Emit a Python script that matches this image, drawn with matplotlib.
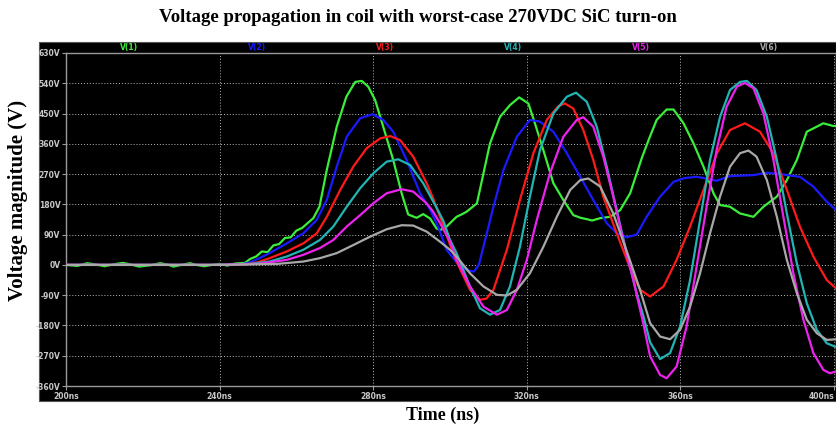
import numpy as np
import matplotlib
matplotlib.use("Agg")
import matplotlib.pyplot as plt
from matplotlib.patches import Rectangle

# time (ns) / voltage (V)
t1 = [200, 203, 205.5, 208, 210, 212.5, 214.8, 217, 219, 222, 224.5, 226.5, 228, 230, 232.3, 234, 236, 238,
      240, 242, 244, 246.6, 248, 249.5, 251, 252.5, 254, 255.5, 257, 258.5, 260, 261.5, 263, 264.4, 266,
      267.9, 270.5, 273, 275.3, 277, 278.7, 280.5, 282.6, 285.2, 287.4, 289.1, 291.3, 293, 294.8, 296.5,
      297.5, 299.1, 301.7, 303, 304.3, 307, 308.7, 310.4, 313, 315.6, 318, 320.4, 322.1, 324.3, 326.9,
      329.5, 332.1, 334, 335.6, 337, 339.1, 341.7, 344.3, 346.9, 350, 352, 353.8, 356.4, 358.2, 360.8,
      363.4, 366, 368.6, 370.3, 372.9, 375.5, 379, 381.6, 385.1, 387.7, 390.3, 392.9, 395.5, 397.2,
      399.8, 400.5]
v1 = [0, -3, 5, 1, -4, 2, 6, 1, -5, -1, 5, 1, -5, 0, 5, 0, -4, 0,
      3, -2, 4, 6, 18, 25, 40, 38, 58, 62, 80, 82, 102, 110, 125, 139, 173,
      282, 411, 500, 544, 547, 530, 490, 411, 312, 213, 150, 140, 151, 138, 108,
      104, 114, 143, 150, 158, 183, 272, 361, 440, 475, 498, 480, 421, 341, 243,
      193, 148, 140, 136, 132, 139, 143, 163, 213, 320, 380, 431, 462, 462, 421,
      361, 292, 213, 178, 173, 153, 143, 173, 203, 252, 312, 396, 411, 421,
      413, 413]

t2 = [200, 240, 246, 248, 250, 253, 257.5, 261.8, 265.3, 267.9, 270.5, 273.1, 276.6, 279.8, 282.6, 285.2,
      288.7, 292.2, 294.8, 297, 299.1, 302.6, 305, 306.2, 307.5, 308.7, 311.3, 313.9, 317.4, 320.8, 323.4,
      326.9, 330.4, 333.9, 337.3, 340.8, 343.4, 346, 348.6, 351.2, 354.7, 358.2, 361, 364.2, 367, 369.4,
      372.9, 379, 382.5, 385.9, 391.1, 394.6, 398.1, 400.5]
v2 = [0, 0, 2, 8, 18, 35, 64, 94, 134, 193, 292, 381, 436, 448, 431, 396,
      312, 213, 165, 110, 45, -5, -17, -20, 0, 54, 173, 282, 381, 431, 426,
      396, 332, 262, 193, 124, 94, 82, 90, 143, 203, 247, 258, 262, 256, 250,
      264, 267, 274, 270, 262, 233, 188, 163]

t3 = [200, 240, 247, 250, 253, 257.5, 261.8, 265.3, 267.9, 271.4, 274.8, 278.3, 281.8, 284.4, 287, 290.4,
      293.9, 295.5, 297.4, 300, 301.7, 305.2, 307.8, 309.5, 311.3, 314.8, 318.2, 321.7, 325.2, 328.2, 329.9,
      332.1, 334.7, 337.3, 339.9, 343.4, 346.9, 349.5, 352.1, 355.6, 359, 362.5, 366, 369.5, 372.9, 376.8,
      380.7, 384.2, 387.7, 391.1, 394.6, 398.1, 400.5]
v3 = [0, 0, 2, 8, 20, 40, 64, 94, 143, 223, 292, 347, 376, 383, 371, 322,
      243, 200, 143, 60, 10, -74, -104, -100, -74, 45, 193, 332, 431, 472, 480,
      465, 401, 312, 203, 94, -10, -74, -94, -64, 15, 114, 223, 332, 401, 421,
      396, 332, 223, 114, 25, -45, -70]

t4 = [200, 240, 248, 253, 257.5, 261.8, 266.1, 269.6, 273.1, 276.6, 280, 283.5, 286.5, 289.6, 293, 296.5,
      298.3, 300, 301.7, 305.2, 307.8, 310.4, 313, 315.6, 318.2, 320.8, 323.4, 326.9, 330.4, 332.8, 335.6,
      338.2, 340.8, 343.4, 346, 348.6, 350.3, 352.1, 354.7, 357.3, 359.9, 362.5, 365.1, 367.7, 370.3, 372.9,
      375.5, 377.3, 379.8, 382.5, 385.1, 387.7, 390.3, 392.9, 395.5, 398.1, 400.5]
v4 = [0, 0, 3, 10, 25, 45, 74, 114, 173, 228, 272, 307, 314, 297, 243, 170,
      130, 74, 35, -64, -129, -148, -134, -64, 54, 203, 341, 450, 500, 512, 485,
      411, 292, 163, 35, -84, -150, -230, -280, -262, -183, -45, 134, 312, 440, 520,
      544, 547, 520, 440, 312, 153, 5, -114, -193, -233, -244]

t5 = [200, 240, 250, 257.5, 261.8, 266.1, 269.6, 273.1, 276.6, 280, 283.5, 287.4, 290.4, 293.9, 295.5, 297.4,
      300, 301.7, 305.2, 308.7, 312.2, 314.8, 317.4, 320, 322.6, 326, 329.5, 333, 334.7, 337.3, 339.9,
      342.5, 345.1, 347.7, 350.3, 352.1, 354.7, 356.4, 359, 361.6, 364.2, 366.8, 369.4, 372, 374.7, 376.8,
      379, 381.6, 384.2, 386.8, 389.4, 392, 394.6, 397.2, 398.9, 400.5]
v5 = [0, 0, 3, 15, 30, 50, 74, 114, 148, 183, 213, 225, 218, 183, 160, 124,
      69, 15, -64, -124, -148, -134, -74, 15, 134, 272, 381, 431, 439, 411, 322,
      203, 74, -45, -173, -272, -327, -337, -302, -183, -5, 173, 341, 470, 530, 541,
      525, 450, 312, 143, -25, -163, -262, -312, -322, -317]

t6 = [200, 240, 255, 261.8, 266.1, 270.5, 274.8, 279.2, 283.5, 287.4, 290.4, 293.9, 297.4, 300, 301.7, 305.2,
      308.7, 312.2, 314.8, 317.4, 320.8, 324.3, 327.8, 331.3, 333.9, 336, 339.1, 342.5, 346.5, 349.5, 352.1,
      354.7, 357.3, 359.9, 362.5, 365.1, 367.7, 370.3, 372.9, 375.5, 377.7, 379.8, 382.5, 385.1, 387.7, 390.3,
      392.9, 395.5, 398.1, 400.5]
v6 = [0, 0, 3, 10, 20, 35, 59, 84, 106, 118, 117, 99, 69, 45, 25, -25,
      -64, -89, -91, -74, -25, 54, 143, 223, 252, 257, 233, 153, 25, -75, -173,
      -213, -221, -193, -124, -25, 94, 203, 292, 332, 340, 322, 252, 143, 15, -84,
      -163, -203, -223, -221]

names = ["V(1)", "V(2)", "V(3)", "V(4)", "V(5)", "V(6)"]
colors = ["#3aee3a", "#1a1aff", "#ff1a1a", "#22b4b4", "#ee22ee", "#a8a8a8"]
yticks = list(range(-360, 631, 90))
xticks = [200, 240, 280, 320, 360, 400]

W, H = 836, 425
fig = plt.figure(figsize=(W / 100, H / 100), dpi=100)
fig.patch.set_facecolor("white")

# LTspice window background, behind the axes
fig.patches.append(Rectangle((39 / W, 1 - 401 / H), (W - 39) / W, (401 - 42) / H,
                             transform=fig.transFigure, facecolor="black", edgecolor="#555555",
                             linewidth=0.8, zorder=-5))

ax = fig.add_axes([66 / W, 1 - 386 / H, (W - 66) / W, (386 - 53) / H], zorder=1)
ax.set_facecolor("black")
for s in ax.spines.values():
    s.set_color("#9a9a9a")
    s.set_linewidth(1.0)

series = [(t1, v1), (t2, v2), (t3, v3), (t4, v4), (t5, v5), (t6, v6)]
for (t, v), c in zip(series, colors):
    ax.plot(t, v, color=c, linewidth=1.6, solid_joinstyle="round", zorder=3)

ax.set_xlim(200, 400.5)
ax.set_ylim(-360, 630)
ax.set_yticks(yticks)
ax.set_yticklabels([f"{y}V" for y in yticks])
ax.set_xticks(xticks)
ax.set_xticklabels([f"{x}ns" for x in xticks])
narrow = ["Liberation Sans Narrow", "DejaVu Sans"]
for lab in ax.get_yticklabels() + ax.get_xticklabels():
    lab.set_fontfamily(narrow)
    lab.set_fontweight("bold")
    lab.set_fontsize(5.5)
    lab.set_color("#c8c8c8")
ax.tick_params(axis="y", colors="#9a9a9a", length=3, width=0.8, pad=1, labelcolor="#c8c8c8")
ax.tick_params(axis="x", colors="#9a9a9a", length=3, width=0.8, pad=1, labelcolor="#c8c8c8")
# last x label sits at the cut-off right edge, pull it inside
ax.get_xticklabels()[-1].set_horizontalalignment("right")
ax.grid(True, color="#bbbbbb", linestyle=(0, (1, 2)), linewidth=0.7, zorder=1)
ax.set_axisbelow(True)

# trace names above the plot
for i, (n, c) in enumerate(zip(names, colors)):
    xf = (129 + 128 * i - 66) / (W - 66)
    ax.text(xf, 1.018, n, transform=ax.transAxes, color=c, ha="center", va="center",
            fontsize=5.5, fontweight="bold", family=narrow)

serif = ["Liberation Serif", "DejaVu Serif"]
fig.text(418 / W, 1 - 18 / H, "Voltage propagation in coil with worst-case 270VDC SiC turn-on",
         ha="center", va="center", fontsize=13.5, fontweight="bold", family=serif)
fig.text(18 / W, 1 - 200 / H, "Voltage magnitude (V)", rotation=90, ha="center", va="center",
         fontsize=15, fontweight="bold", family=serif)
fig.text(443 / W, 1 - 415 / H, "Time (ns)", ha="center", va="center",
         fontsize=13, fontweight="bold", family=serif)

fig.savefig("out.png", dpi=100, facecolor="white")
